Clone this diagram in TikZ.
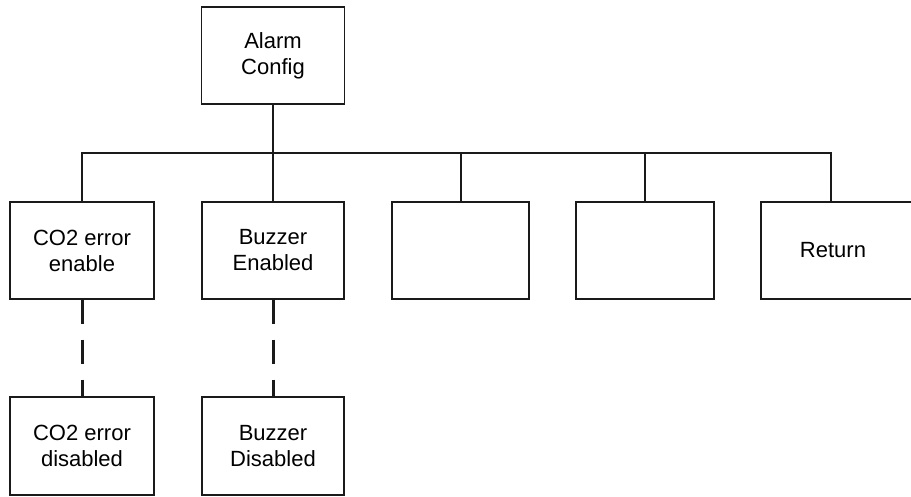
\documentclass[tikz,border=0pt]{standalone}
\usepackage{fontspec}
\setmainfont{Liberation Sans}
\usetikzlibrary{positioning}
\definecolor{menuInk}{HTML}{1A1A1A}

\begin{document}
\begin{tikzpicture}[
  x=1pt, y=-1pt,
  % Styles
  menubox/.style={
    rectangle, draw=menuInk, line width=1.1pt,
    minimum width=#1, minimum height=97pt,
    inner sep=2pt, align=center, text=black,
    font=\fontsize{22}{26}\selectfont
  },
  menubox/.default=143pt,
  treeline/.style={draw=menuInk, line width=2pt},
  dashline/.style={draw=menuInk, line width=3pt, dash pattern=on 24pt off 16pt},
]
\clip (0,0) rectangle (911,496);

% === TOP MENU ===
\node[menubox] (alarm) at (273,55.5) {Alarm\\Config};

% === FIRST LEVEL ===
\node[menubox=144pt] (co2en) at (82,250.5) {CO2 error\\enable};
\node[menubox=142pt] (buzen) at (273,250.5) {Buzzer\\Enabled};
\node[menubox=137pt] (blanka) at (460.5,250.5) {};
\node[menubox=138pt] (blankb) at (645,250.5) {};
\node[menubox=158pt] (return) at (840,250.5) {\hspace*{-14pt}Return};

% === SECOND LEVEL ===
\node[menubox=144pt, minimum height=98pt] (co2dis) at (82,446) {CO2 error\\disabled};
\node[menubox=142pt, minimum height=98pt] (buzdis) at (273,446) {Buzzer\\Disabled};

% === Tree connections ===
\coordinate (bus) at (273,153);
\draw[treeline] (alarm.south) -- (bus);
\draw[treeline] (co2en.north) |- (bus);
\draw[treeline] (buzen.north) -- (bus);
\draw[treeline] (blanka.north) |- (bus);
\draw[treeline] (blankb.north) |- (bus);
\draw[treeline] ([xshift=-9pt]return.north) |- (bus);

% === Enabled to disabled ===
\draw[dashline] (co2en.south) -- (co2dis.north);
\draw[dashline] (buzen.south) -- (buzdis.north);

\end{tikzpicture}
\end{document}
